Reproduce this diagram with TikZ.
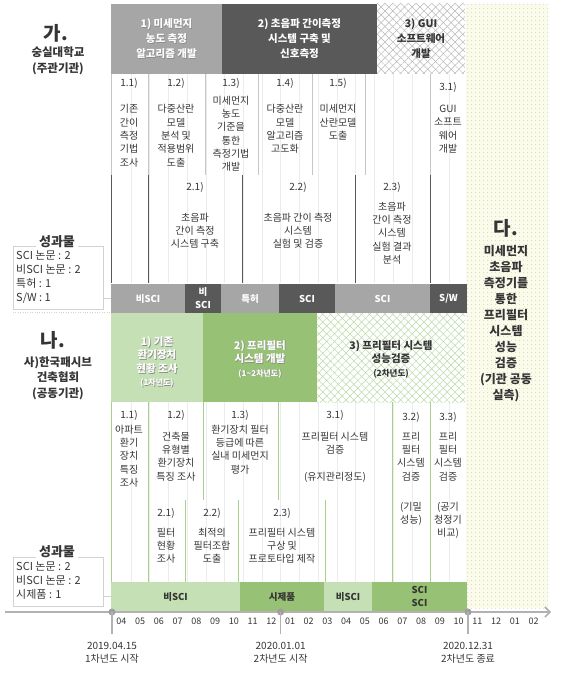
\documentclass[tikz,border=0pt]{standalone}
\usepackage{fontspec}
\setmainfont{Noto Sans CJK KR}
\usetikzlibrary{arrows.meta,patterns.meta}

\definecolor{txt}{HTML}{353535}
\definecolor{lgrey}{HTML}{A6A6A6}
\definecolor{dgrey}{HTML}{595959}
\definecolor{lgreen}{HTML}{C5E0B4}
\definecolor{mgreen}{HTML}{97C175}
\definecolor{gline}{HTML}{A9D18E}
\definecolor{cream}{HTML}{FBFBEC}
\definecolor{dotc}{HTML}{C9C99C}

\begin{document}
\begin{tikzpicture}[x=1pt,y=-1pt]
    \tikzstyle{every node}=[inner sep=0pt, text=txt]
    \tikzstyle{hdr}=[align=center, font=\fontsize{10.5}{15}\selectfont\bfseries]
    \tikzstyle{ghdr}=[align=center, font=\fontsize{10.5}{13.5}\selectfont\bfseries]
    \tikzstyle{cell}=[anchor=north, align=center, font=\fontsize{10}{13.3}\selectfont]
    \tikzstyle{bar}=[minimum height=29, align=center, font=\fontsize{9.5}{13}\selectfont\bfseries]
    \tikzstyle{grid}=[gray!15, line width=0.3pt]
    \tikzstyle{sepl}=[gray!45, line width=0.6pt]
    \tikzstyle{sepd}=[black!65, line width=0.9pt]
    \tikzstyle{sepg}=[gline, line width=0.9pt]
    \tikzstyle{outbox}=[draw=gray!35, line width=0.5pt, anchor=north west]
    \tikzstyle{outtitle}=[fill=white, inner xsep=3pt, inner ysep=1pt, font=\fontsize{13}{15}\selectfont\bfseries]
    \tikzstyle{outtext}=[anchor=north west, align=left, font=\fontsize{11}{13.7}\selectfont]
    \tikzstyle{org}=[align=center, font=\fontsize{11.5}{15.5}\selectfont\bfseries]
    \tikzstyle{big}=[font=\fontsize{19}{20}\selectfont\bfseries]
    \tikzstyle{mon}=[font=\fontsize{9}{11}\selectfont]
    \tikzstyle{date}=[align=center, font=\fontsize{10}{12.5}\selectfont]
    \tikzstyle{dot}=[circle, fill=gray!75, minimum size=7]
    \tikzstyle{axis}=[gray!60, line width=1.6pt]
    \tikzstyle{shade}=[text=black!45]
    \useasboundingbox (0,0) rectangle (565,676);

    % dotted column on the right
    \fill[cream] (466,4) rectangle (548,608);
    \fill[pattern={Dots[distance=4pt,radius=0.55pt]}, pattern color=dotc] (466,4) rectangle (548,608);

    % month grid
    \foreach \k in {1,...,18}{
      \draw[grid] ({112+\k*18.737},74) -- ({112+\k*18.737},283);
      \draw[grid] ({112+\k*18.737},402) -- ({112+\k*18.737},582);
    }

    % ga: headers
    \node[minimum width=111, minimum height=70, fill=lgrey] (h1) at (166.5,39) {};
    \node[hdr, shade] (h1s) at (167.2,39.7) {1) 미세먼지\\농도 측정\\알고리즘 개발};
    \node[hdr, text=white] (h1t) at (h1) {1) 미세먼지\\농도 측정\\알고리즘 개발};
    \node[hdr, minimum width=155, minimum height=70, fill=dgrey, text=white] (h2) at (299.5,39) {2) 초음파 간이측정\\시스템 구축 및\\신호측정};
    \node[hdr, minimum width=88, minimum height=70, preaction={fill=white},
      preaction={pattern={Lines[angle=45,distance=5.5pt,line width=0.5pt]}, pattern color=gray!55},
      pattern={Lines[angle=-45,distance=5.5pt,line width=0.5pt]}, pattern color=gray!55] (h3) at (421,39) {3) GUI\\소프트웨어\\개발};

    % ga: column lines
    \foreach \x in {111,148,205,258,312,365,430}
      \draw[sepl] (\x,74) -- (\x,175);
    \foreach \x in {111,148,242,355,430}
      \draw[sepd] (\x,175) -- (\x,283);

    % ga: tasks
    \node[cell] (c11) at (129,78) {1.1)\\[13.3pt]기존\\간이\\측정\\기법\\조사};
    \node[cell] (c12) at (176,78) {1.2)\\[13.3pt]다중산란\\모델\\분석 및\\적용범위\\도출};
    \node[cell] (c13) at (231,78) {1.3)\\[4.5pt]미세먼지\\농도\\기준을\\통한\\측정기법\\개발};
    \node[cell] (c14) at (285,78) {1.4)\\[13.3pt]다중산란\\모델\\알고리즘\\고도화};
    \node[cell] (c15) at (338,78) {1.5)\\[13.3pt]미세먼지\\산란모델\\도출};
    \node[cell] (c31) at (448,82) {3.1)\\[9pt]GUI\\소프트\\웨어\\개발};
    \node[cell] (c21) at (195,182) {2.1)\\[17.7pt]초음파\\간이 측정\\시스템 구축};
    \node[cell] (c22) at (298,182) {2.2)\\[17.7pt]초음파 간이 측정\\시스템\\실험 및 검증};
    \node[cell] (c23) at (392,182) {2.3)\\[6.7pt]초음파\\간이 측정\\시스템\\실험 결과\\분석};

    % ga: outputs
    \node[bar, fill=lgrey, text=white, minimum width=74] (b1) at (148,298.5) {비SCI};
    \node[bar, fill=dgrey, text=white, minimum width=36] (b2) at (203,298.5) {비\\SCI};
    \node[bar, fill=lgrey, text=white, minimum width=58] (b3) at (250,298.5) {특허};
    \node[bar, fill=dgrey, text=white, minimum width=56] (b4) at (307,298.5) {SCI};
    \node[bar, fill=lgrey, text=white, minimum width=95] (b5) at (382.5,298.5) {SCI};
    \node[bar, fill=dgrey, text=white, minimum width=37] (b6) at (448.5,298.5) {S/W};

    \node[big] (ga) at (56,33) {가.};
    \node[org] (gaorg) at (58,61) {숭실대학교\\(주관기관)};
    \node[outbox, minimum width=90, minimum height=63] (ra) at (13,246) {};
    \node[outtitle] (rat) at (57,242) {성과물};
    \node[outtext] (rax) at (16,251) {SCI 논문 : 2\\비SCI 논문 : 2\\특허 : 1\\S/W : 1};
    \draw[gray!35] (ra.east |- b1) -- (b1.west);
    \draw[gray!35, dotted] (13,312) -- (111,312);

    % na: headers
    \node[minimum width=92, minimum height=89, fill=lgreen] (n1) at (157,357.5) {};
    \node[ghdr, shade] (n1s) at (157.7,362.7) {1) 기존\\환기장치\\현황 조사\\{\fontsize{8}{14}\selectfont(1차년도)}};
    \node[ghdr, text=white] (n1t) at (157,362) {1) 기존\\환기장치\\현황 조사\\{\fontsize{8}{14}\selectfont(1차년도)}};
    \node[minimum width=114, minimum height=89, fill=mgreen] (n2) at (260,357.5) {};
    \node[ghdr, shade] (n2s) at (260.7,359.7) {2) 프리필터\\시스템 개발\\{\fontsize{8}{14}\selectfont(1\textasciitilde 2차년도)}};
    \node[ghdr, text=white] (n2t) at (260,359) {2) 프리필터\\시스템 개발\\{\fontsize{8}{14}\selectfont(1\textasciitilde 2차년도)}};
    \node[minimum width=148, minimum height=89, preaction={fill=white},
      preaction={pattern={Lines[angle=45,distance=5.5pt,line width=0.5pt]}, pattern color=gline!80},
      pattern={Lines[angle=-45,distance=5.5pt,line width=0.5pt]}, pattern color=gline!80] (n3) at (391,357.5) {};
    \node[ghdr] (n3t) at (391,359) {3) 프리필터 시스템\\성능검증\\{\fontsize{8.5}{14}\selectfont\bfseries(2차년도)}};

    % na: column lines
    \foreach \x in {111,148,203,278,392,430}
      \draw[sepg] (\x,402) -- (\x,500);
    \foreach \x in {111,148,185,238,325,392,430}
      \draw[sepg] (\x,500) -- (\x,582);

    % na: tasks
    \node[cell] (d11) at (129,410) {1.1)\\[1.7pt]아파트\\환기\\장치\\특징\\조사};
    \node[cell] (d12) at (176,410) {1.2)\\[8.7pt]건축물\\유형별\\환기장치\\특징 조사};
    \node[cell] (d13) at (240,410) {1.3)\\[1.7pt]환기장치 필터\\등급에 따른\\실내 미세먼지\\평가};
    \node[cell] (d31) at (335,410) {3.1)\\[8.7pt]프리필터 시스템\\검증\\[13.3pt](유지관리정도)};
    \node[cell] (d32) at (411,412) {3.2)\\[6.7pt]프리\\필터\\시스템\\검증\\[16.7pt](기밀\\성능)};
    \node[cell] (d33) at (448,412) {3.3)\\[6.7pt]프리\\필터\\시스템\\검증\\[16.7pt](공기\\청정기\\비교)};
    \node[cell] (e21) at (166,508) {2.1)\\[6.7pt]필터\\현황\\조사};
    \node[cell] (e22) at (212,508) {2.2)\\[6.7pt]최적의\\필터조합\\도출};
    \node[cell] (e23) at (282,508) {2.3)\\[6.7pt]프리필터 시스템\\구상 및\\프로토타입 제작};

    % na: outputs
    \node[bar, fill=lgreen, minimum width=129] (g1) at (175.5,596.5) {비SCI};
    \node[bar, fill=mgreen, minimum width=84] (g2) at (282,596.5) {시제품};
    \node[bar, fill=lgreen, minimum width=48] (g3) at (348,596.5) {비SCI};
    \node[bar, fill=mgreen, minimum width=95] (g4) at (419.5,596.5) {SCI\\SCI};

    \node[big] (na) at (53,340) {나.};
    \node[org] (naorg) at (58,378) {사)한국패시브\\건축협회\\(공동기관)};
    \node[outbox, minimum width=90, minimum height=49] (rb) at (13,557) {};
    \node[outtitle] (rbt) at (57,552) {성과물};
    \node[outtext] (rbx) at (16,562) {SCI 논문 : 2\\비SCI 논문 : 2\\시제품 : 1};
    \draw[gray!35] (rb.east |- g1) -- (g1.west);

    % da
    \node[big] (da) at (506,228) {다.};
    \node[org, anchor=north, font=\fontsize{12}{16}\selectfont\bfseries] (daorg) at (506,245) {미세먼지\\초음파\\측정기를\\통한\\프리필터\\시스템\\성능\\검증\\(기관 공동\\실측)};

    % timeline
    \coordinate (tl0) at (5,612);
    \coordinate (tl1) at (551,612);
    \draw[axis, -{Straight Barb[length=5pt,width=10pt]}] (tl0) -- (tl1);
    \foreach \m [count=\i from 0] in {04,05,06,07,08,09,10,11,12,01,02,03,04,05,06,07,08,09,10,11,12,01,02}
      \node[mon] (m\i) at ({112+18.737*(\i+0.5)},621) {\m};
    \node[dot] (s1) at (112,612) {};
    \node[dot] (s2) at ({112+9*18.737},612) {};
    \node[dot] (s3) at ({112+19*18.737},612) {};
    \foreach \s in {s1,s2,s3}
      \draw[axis, line width=1.4pt] (\s.center) -- +(0,22);
    \node[date] (t1) at (s1 |- 0,653) {2019.04.15\\1차년도 시작};
    \node[date] (t2) at (s2 |- 0,653) {2020.01.01\\2차년도 시작};
    \node[date] (t3) at (s3 |- 0,653) {2020.12.31\\2차년도 종료};
\end{tikzpicture}
\end{document}
